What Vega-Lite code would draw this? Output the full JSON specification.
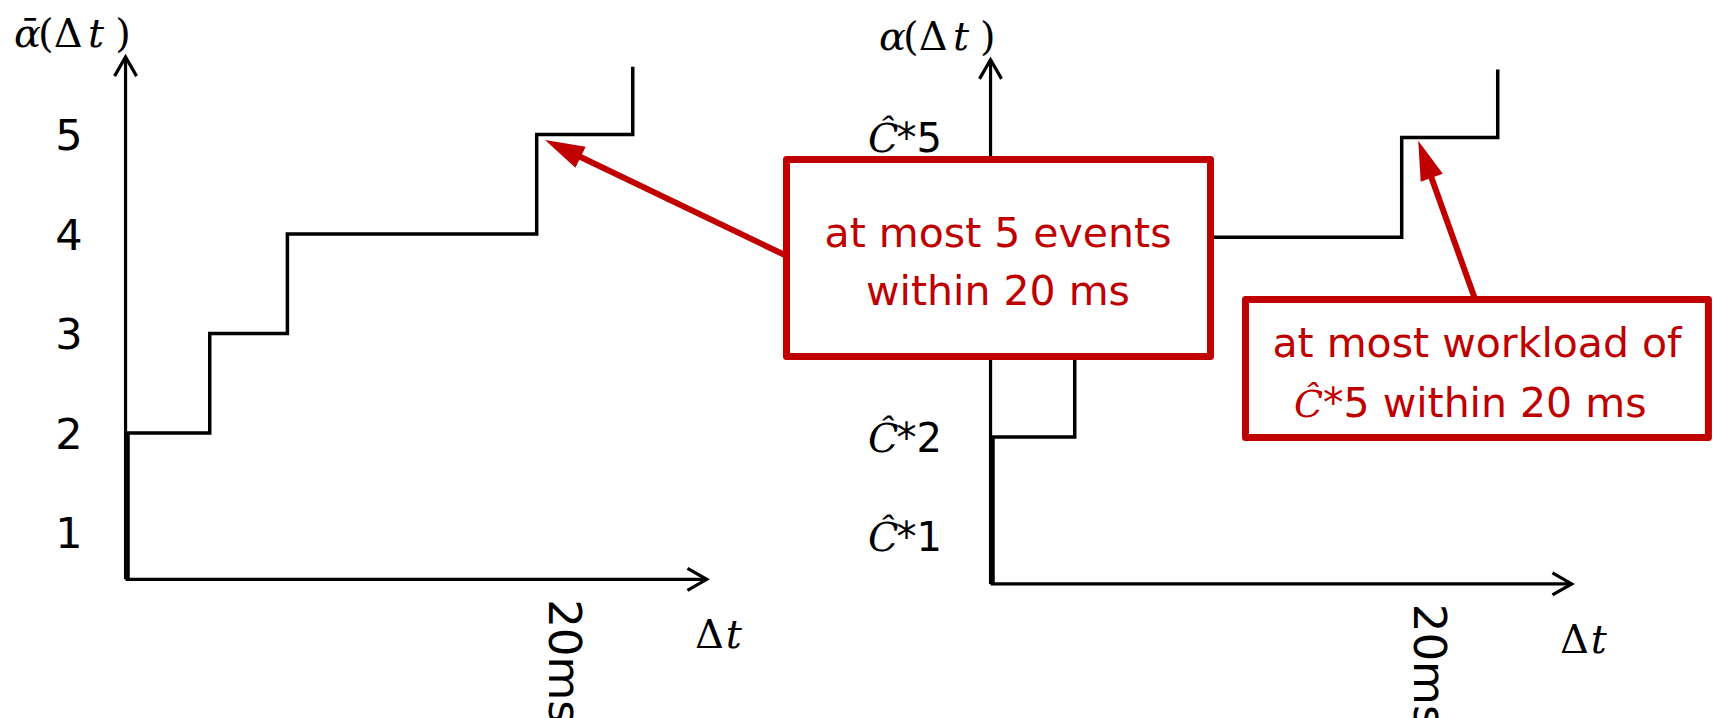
{
  "$schema": "https://vega.github.io/schema/vega-lite/v6.json",
  "width": 1714,
  "height": 718,
  "autosize": {"type": "none"},
  "padding": 0,
  "background": "white",
  "config": {"view": {"stroke": null}},
  "datasets": {
    "curve": [
      {"t": 0, "v": 0.53},
      {"t": 0, "v": 2},
      {"t": 4, "v": 3},
      {"t": 7.8, "v": 4},
      {"t": 20, "v": 5},
      {"t": 24.7, "v": 5.68}
    ],
    "axes": [
      {"axis": "y", "t": -0.12, "v": 0.53, "t2": -0.12, "v2": 5.78},
      {"axis": "x", "t": -0.12, "v": 0.53, "t2": 28.32, "v2": 0.53}
    ],
    "ticksLeft": [
      {"lab": "1", "t": -2.89, "v": 1},
      {"lab": "2", "t": -2.89, "v": 2},
      {"lab": "3", "t": -2.89, "v": 3},
      {"lab": "4", "t": -2.89, "v": 4},
      {"lab": "5", "t": -2.89, "v": 5}
    ],
    "ticksRight": [
      {"lab": "*1", "tSym": -6.12, "t": -4.72, "v": 1},
      {"lab": "*2", "tSym": -6.12, "t": -4.72, "v": 2},
      {"lab": "*5", "tSym": -6.12, "t": -4.72, "v": 5}
    ],
    "tick20": [{"s": "20ms", "t": 20, "v": 0.33}],
    "dtUpright": [{"s": "Δ", "t": 27.75, "v": -0.16}],
    "dtItalic": [{"s": "t", "t": 29.25, "v": -0.16}],
    "titleLeftVar": [{"s": "ᾱ", "t": -5.58, "v": 5.88}],
    "titleRightVar": [{"s": "α", "t": -5.58, "v": 5.88}],
    "titleItalic": [{"s": "t", "t": -1.96, "v": 5.88}],
    "titleUpright": [
      {"s": "(Δ", "t": -4.4, "v": 5.88},
      {"s": ")", "t": -0.63, "v": 5.88}
    ],
    "arrows": [
      {"id": "events", "t": -9.44, "v": 3.75, "t2": -20.82, "v2": 4.867, "tipT": -21.92, "tipV": 4.975},
      {"id": "workload", "t": 23.78, "v": 3.273, "t2": 21.22, "v2": 4.733, "tipT": 20.81, "tipV": 4.968}
    ],
    "boxes": [
      {"id": "events", "t": -10.105, "v": 4.78, "t2": 10.643, "v2": 2.807},
      {"id": "workload", "t": 12.356, "v": 3.378, "t2": 35.01, "v2": 1.996}
    ],
    "boxLines": [
      {"s": "at most 5 events", "t": 0.245, "v": 3.906},
      {"s": "within 20 ms", "t": 0.245, "v": 3.323},
      {"s": "at most workload of", "t": 23.685, "v": 2.805}
    ],
    "boxLineTail": [{"s": "*5 within 20 ms", "t": 16.15, "v": 2.204}],
    "boxLineSymbol": [{"s": "Ĉ", "t": 14.73, "v": 2.204}]
  },
  "layer": [
    {
      "encoding": {
        "x": {"field": "t", "type": "quantitative", "scale": {"domain": [-6.264, 77.612], "nice": false, "zero": false}, "axis": null},
        "y": {"field": "v", "type": "quantitative", "scale": {"domain": [-0.864, 6.352], "nice": false, "zero": false}, "axis": null}
      },
      "layer": [
        {
          "data": {"name": "axes"},
          "mark": {"type": "rule", "color": "black", "strokeWidth": 3.2},
          "encoding": {"x2": {"field": "t2"}, "y2": {"field": "v2"}}
        },
        {
          "data": {"name": "axes"},
          "transform": [{"filter": "datum.axis === 'y'"}],
          "mark": {"type": "point", "shape": "M-1,1.75L0,0L1,1.75", "size": 484, "filled": false, "stroke": "black", "strokeWidth": 3.2, "opacity": 1, "angle": 0},
          "encoding": {"x": {"field": "t2", "type": "quantitative"}, "y": {"field": "v2", "type": "quantitative"}}
        },
        {
          "data": {"name": "axes"},
          "transform": [{"filter": "datum.axis === 'x'"}],
          "mark": {"type": "point", "shape": "M-1,1.75L0,0L1,1.75", "size": 484, "filled": false, "stroke": "black", "strokeWidth": 3.2, "opacity": 1, "angle": 90},
          "encoding": {"x": {"field": "t2", "type": "quantitative"}, "y": {"field": "v2", "type": "quantitative"}}
        },
        {
          "data": {"name": "curve"},
          "mark": {"type": "line", "interpolate": "step-after", "color": "black", "strokeWidth": 3.5},
          "encoding": {"order": {"value": null}}
        },
        {
          "data": {"name": "ticksLeft"},
          "mark": {"type": "text", "font": "DejaVu Sans", "fontSize": 43, "align": "center", "baseline": "alphabetic", "dy": 15.7, "color": "black"},
          "encoding": {"text": {"field": "lab"}}
        },
        {
          "data": {"name": "titleLeftVar"},
          "mark": {"type": "text", "font": "DejaVu Serif", "fontStyle": "italic", "fontSize": 40, "align": "left", "baseline": "alphabetic", "color": "black"},
          "encoding": {"text": {"field": "s"}}
        },
        {
          "data": {"name": "titleItalic"},
          "mark": {"type": "text", "font": "DejaVu Serif", "fontStyle": "italic", "fontSize": 40, "align": "left", "baseline": "alphabetic", "color": "black"},
          "encoding": {"text": {"field": "s"}}
        },
        {
          "data": {"name": "titleUpright"},
          "mark": {"type": "text", "font": "DejaVu Serif", "fontSize": 40, "align": "left", "baseline": "alphabetic", "color": "black"},
          "encoding": {"text": {"field": "s"}}
        },
        {
          "data": {"name": "tick20"},
          "mark": {"type": "text", "font": "DejaVu Sans", "fontSize": 45, "align": "left", "baseline": "alphabetic", "angle": 90, "dy": -12, "color": "black"},
          "encoding": {"text": {"field": "s"}}
        },
        {
          "data": {"name": "dtUpright"},
          "mark": {"type": "text", "font": "DejaVu Serif", "fontSize": 40, "align": "left", "baseline": "alphabetic", "color": "black"},
          "encoding": {"text": {"field": "s"}}
        },
        {
          "data": {"name": "dtItalic"},
          "mark": {"type": "text", "font": "DejaVu Serif", "fontStyle": "italic", "fontSize": 40, "align": "left", "baseline": "alphabetic", "color": "black"},
          "encoding": {"text": {"field": "s"}}
        }
      ]
    },
    {
      "encoding": {
        "x": {"field": "t", "type": "quantitative", "scale": {"domain": [-48.593, 35.283], "nice": false, "zero": false}, "axis": null},
        "y": {"field": "v", "type": "quantitative", "scale": {"domain": [-0.813, 6.377], "nice": false, "zero": false}, "axis": null}
      },
      "layer": [
        {
          "data": {"name": "axes"},
          "mark": {"type": "rule", "color": "black", "strokeWidth": 3.2},
          "encoding": {"x2": {"field": "t2"}, "y2": {"field": "v2"}}
        },
        {
          "data": {"name": "axes"},
          "transform": [{"filter": "datum.axis === 'y'"}],
          "mark": {"type": "point", "shape": "M-1,1.75L0,0L1,1.75", "size": 484, "filled": false, "stroke": "black", "strokeWidth": 3.2, "opacity": 1, "angle": 0},
          "encoding": {"x": {"field": "t2", "type": "quantitative"}, "y": {"field": "v2", "type": "quantitative"}}
        },
        {
          "data": {"name": "axes"},
          "transform": [{"filter": "datum.axis === 'x'"}],
          "mark": {"type": "point", "shape": "M-1,1.75L0,0L1,1.75", "size": 484, "filled": false, "stroke": "black", "strokeWidth": 3.2, "opacity": 1, "angle": 90},
          "encoding": {"x": {"field": "t2", "type": "quantitative"}, "y": {"field": "v2", "type": "quantitative"}}
        },
        {
          "data": {"name": "curve"},
          "mark": {"type": "line", "interpolate": "step-after", "color": "black", "strokeWidth": 3.5},
          "encoding": {"order": {"value": null}}
        },
        {
          "data": {"name": "ticksRight"},
          "mark": {"type": "text", "font": "DejaVu Serif", "fontStyle": "italic", "fontSize": 40, "align": "left", "baseline": "alphabetic", "dy": 14.5, "color": "black"},
          "encoding": {"x": {"field": "tSym", "type": "quantitative"}, "text": {"value": "Ĉ"}}
        },
        {
          "data": {"name": "ticksRight"},
          "mark": {"type": "text", "font": "DejaVu Sans", "fontSize": 40, "align": "left", "baseline": "alphabetic", "dy": 14.5, "color": "black"},
          "encoding": {"text": {"field": "lab"}}
        },
        {
          "data": {"name": "titleRightVar"},
          "mark": {"type": "text", "font": "DejaVu Serif", "fontStyle": "italic", "fontSize": 40, "align": "left", "baseline": "alphabetic", "color": "black"},
          "encoding": {"text": {"field": "s"}}
        },
        {
          "data": {"name": "titleItalic"},
          "mark": {"type": "text", "font": "DejaVu Serif", "fontStyle": "italic", "fontSize": 40, "align": "left", "baseline": "alphabetic", "color": "black"},
          "encoding": {"text": {"field": "s"}}
        },
        {
          "data": {"name": "titleUpright"},
          "mark": {"type": "text", "font": "DejaVu Serif", "fontSize": 40, "align": "left", "baseline": "alphabetic", "color": "black"},
          "encoding": {"text": {"field": "s"}}
        },
        {
          "data": {"name": "tick20"},
          "mark": {"type": "text", "font": "DejaVu Sans", "fontSize": 45, "align": "left", "baseline": "alphabetic", "angle": 90, "dy": -12, "color": "black"},
          "encoding": {"text": {"field": "s"}}
        },
        {
          "data": {"name": "dtUpright"},
          "mark": {"type": "text", "font": "DejaVu Serif", "fontSize": 40, "align": "left", "baseline": "alphabetic", "color": "black"},
          "encoding": {"text": {"field": "s"}}
        },
        {
          "data": {"name": "dtItalic"},
          "mark": {"type": "text", "font": "DejaVu Serif", "fontStyle": "italic", "fontSize": 40, "align": "left", "baseline": "alphabetic", "color": "black"},
          "encoding": {"text": {"field": "s"}}
        },
        {
          "data": {"name": "arrows"},
          "mark": {"type": "rule", "color": "#C00000", "strokeWidth": 6},
          "encoding": {"x2": {"field": "t2"}, "y2": {"field": "v2"}}
        },
        {
          "data": {"name": "arrows"},
          "transform": [{"filter": "datum.id === 'events'"}],
          "mark": {"type": "point", "shape": "M0,0L-1,3.36L1,3.36Z", "size": 552, "filled": true, "fill": "#C00000", "strokeWidth": 0, "opacity": 1, "angle": -64},
          "encoding": {"x": {"field": "tipT", "type": "quantitative"}, "y": {"field": "tipV", "type": "quantitative"}}
        },
        {
          "data": {"name": "arrows"},
          "transform": [{"filter": "datum.id === 'workload'"}],
          "mark": {"type": "point", "shape": "M0,0L-1,3.36L1,3.36Z", "size": 552, "filled": true, "fill": "#C00000", "strokeWidth": 0, "opacity": 1, "angle": -20},
          "encoding": {"x": {"field": "tipT", "type": "quantitative"}, "y": {"field": "tipV", "type": "quantitative"}}
        },
        {
          "data": {"name": "boxes"},
          "mark": {"type": "rect", "fill": "white", "stroke": "#C00000", "strokeWidth": 7, "strokeJoin": "round"},
          "encoding": {"x2": {"field": "t2"}, "y2": {"field": "v2"}}
        },
        {
          "data": {"name": "boxLines"},
          "mark": {"type": "text", "font": "DejaVu Sans", "fontSize": 41, "align": "center", "baseline": "alphabetic", "color": "#C00000"},
          "encoding": {"text": {"field": "s"}}
        },
        {
          "data": {"name": "boxLineTail"},
          "mark": {"type": "text", "font": "DejaVu Sans", "fontSize": 41, "align": "left", "baseline": "alphabetic", "color": "#C00000"},
          "encoding": {"text": {"field": "s"}}
        },
        {
          "data": {"name": "boxLineSymbol"},
          "mark": {"type": "text", "font": "DejaVu Serif", "fontStyle": "italic", "fontSize": 38, "align": "left", "baseline": "alphabetic", "color": "#C00000"},
          "encoding": {"text": {"field": "s"}}
        }
      ]
    }
  ],
  "resolve": {"scale": {"x": "independent", "y": "independent"}}
}
